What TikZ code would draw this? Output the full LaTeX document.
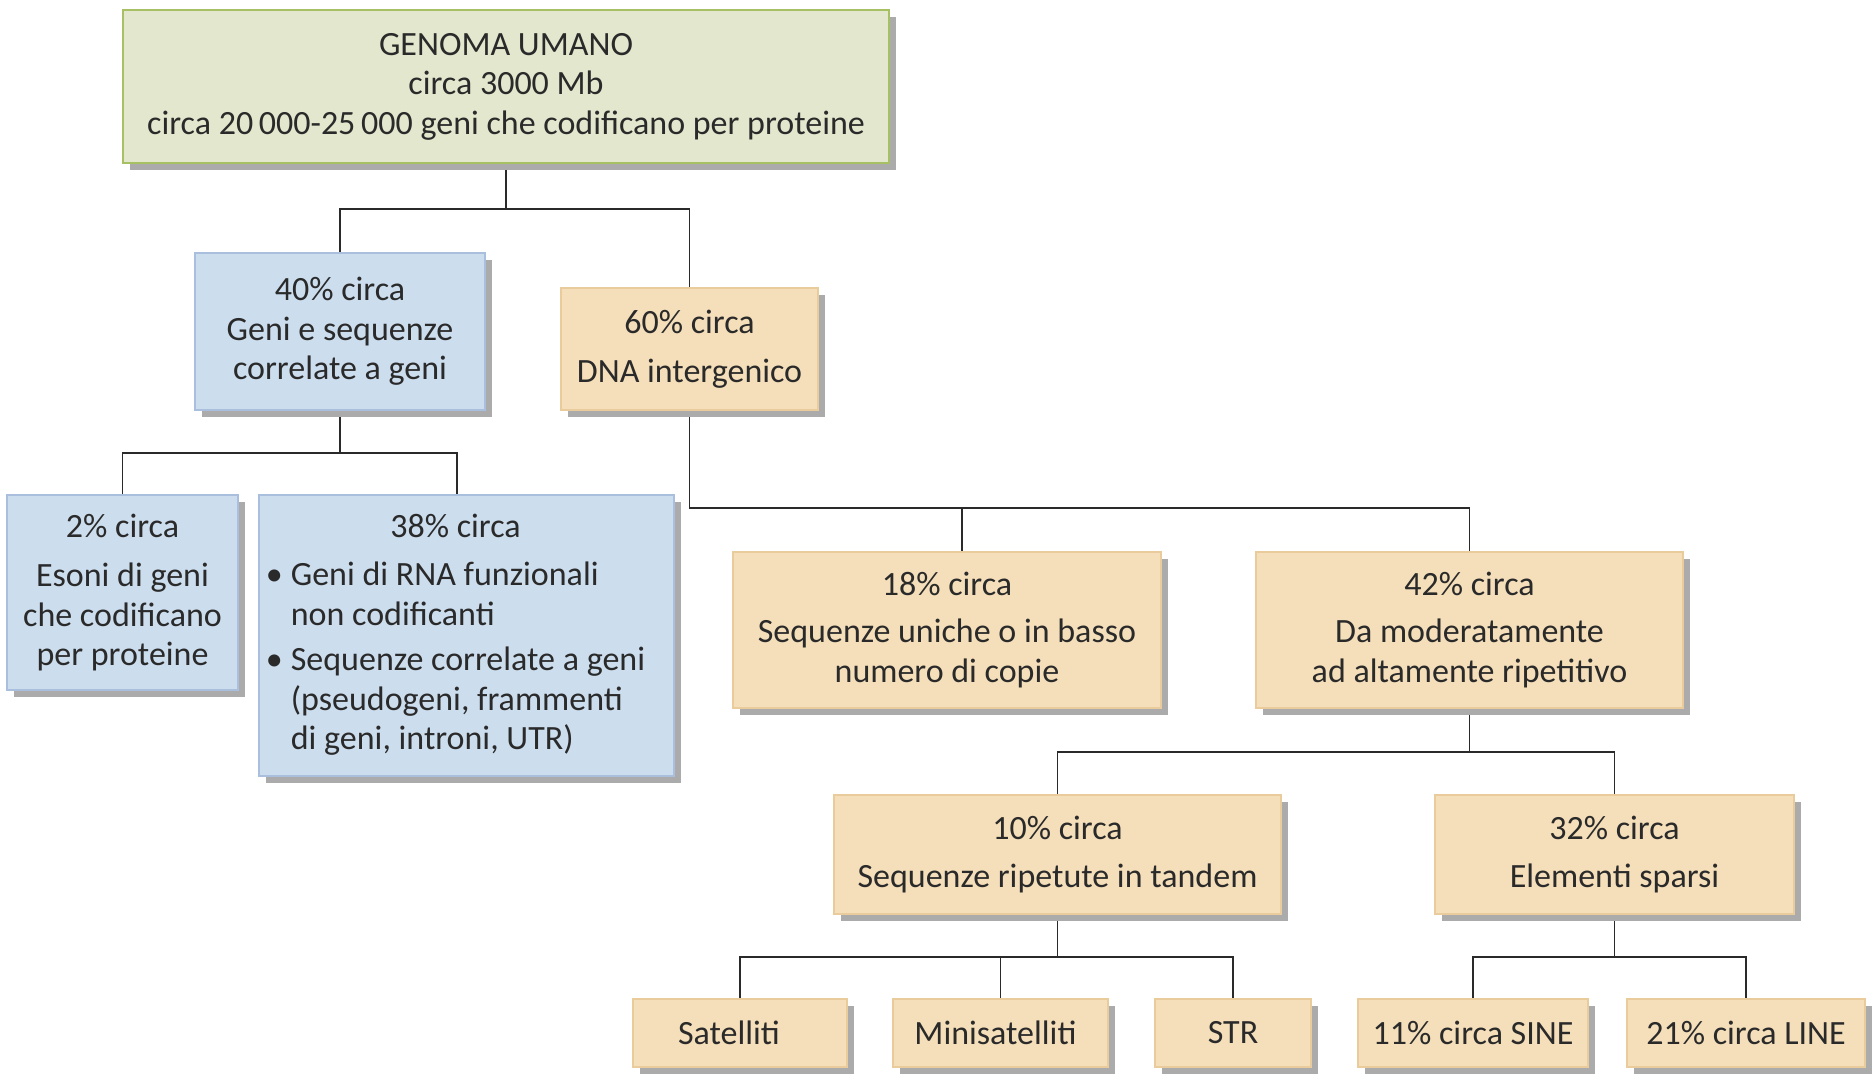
\documentclass[tikz,border=0pt]{standalone}
\usepackage{fontspec}
\setmainfont{Carlito}
\usetikzlibrary{shadows,backgrounds}
\definecolor{gfill}{HTML}{E3E7CD}
\definecolor{gdraw}{HTML}{A7C063}
\definecolor{bfill}{HTML}{CCDDEE}
\definecolor{bdraw}{HTML}{A9BFDD}
\definecolor{tfill}{HTML}{F5DFBA}
\definecolor{tdraw}{HTML}{EACB9C}
\definecolor{shad}{HTML}{ABABAB}
\definecolor{txt}{HTML}{2A2A2A}
\tikzset{
  box/.style={draw, line width=1.5pt, inner sep=0pt, align=center, text=txt,
    font=\fontsize{34}{39.5}\selectfont,
    drop shadow={shadow xshift=7pt, shadow yshift=-7pt, fill=shad, opacity=1}},
  gbox/.style={box, fill=gfill, draw=gdraw},
  bbox/.style={box, fill=bfill, draw=bdraw},
  tbox/.style={box, fill=tfill, draw=tdraw},
  conn/.style={line width=1.8pt, draw=txt}
}
\begin{document}
\begin{tikzpicture}[x=1pt,y=-1pt]
\useasboundingbox (0,0) rectangle (1874,1074);
\node[gbox, minimum width=766pt, minimum height=153pt] (top) at (506,86.5)
  {GENOMA UMANO\\circa 3000 Mb\\circa 20\,000-25\,000 geni che codificano per proteine};
\node[bbox, minimum width=290pt, minimum height=157pt] (n40) at (340,331.5)
  {40\% circa\\Geni e sequenze\\correlate a geni};
\node[tbox, minimum width=257pt, minimum height=122pt] (n60) at (689.5,349)
  {60\% circa\\[9pt]DNA intergenico};
\node[bbox, minimum width=231pt, minimum height=195pt] (n2) at (122.5,592.5)
  {2\% circa\\[10pt]Esoni di geni\\che codificano\\per proteine};
\node[bbox, minimum width=415pt, minimum height=281pt] (n38) at (466.5,635.5)
  {\begin{tabular}{@{}l@{\hspace{8pt}}l@{}}
   \multicolumn{2}{c}{38\% circa}\\[9pt]
   \textbullet & Geni di RNA funzionali\\
               & non codificanti\\[6pt]
   \textbullet & Sequenze correlate a geni\\
               & (pseudogeni, frammenti\\
               & di geni, introni, UTR)
   \end{tabular}\rule{22pt}{0pt}};
\node[tbox, minimum width=428pt, minimum height=156pt] (n18) at (947,630)
  {18\% circa\\[8pt]Sequenze uniche o in basso\\numero di copie};
\node[tbox, minimum width=427pt, minimum height=156pt] (n42) at (1469.5,630)
  {42\% circa\\[8pt]Da moderatamente\\ad altamente ripetitivo};
\node[tbox, minimum width=447pt, minimum height=119pt] (n10) at (1057.5,854.5)
  {10\% circa\\[8pt]Sequenze ripetute in tandem};
\node[tbox, minimum width=359pt, minimum height=119pt] (n32) at (1614.5,854.5)
  {32\% circa\\[8pt]Elementi sparsi};
\node[tbox, minimum width=214pt, minimum height=68pt] (sat) at (740,1033) {Satelliti\rule{22pt}{0pt}};
\node[tbox, minimum width=215pt, minimum height=68pt] (mini) at (1000.5,1033) {Minisatelliti\rule{10pt}{0pt}};
\node[tbox, minimum width=156pt, minimum height=68pt] (str) at (1233,1033) {STR};
\node[tbox, minimum width=230pt, minimum height=68pt] (sine) at (1473,1033) {11\% circa SINE};
\node[tbox, minimum width=238pt, minimum height=68pt] (line) at (1746,1033) {21\% circa LINE};
\coordinate (k38) at (457,495);
\coordinate (k18) at (962,552);
\coordinate (b1) at (0,209);
\coordinate (b2) at (0,453);
\coordinate (b3) at (0,508);
\coordinate (b4) at (0,752);
\coordinate (b5) at (0,957);
\begin{scope}[on background layer]
\draw[conn] (top.south) -- (top.south |- b1) -| (n40.north);
\draw[conn] (top.south |- b1) -| (n60.north);
\draw[conn] (n40.south) -- (n40.south |- b2) -| (n2.north);
\draw[conn] (n40.south |- b2) -| (k38);
\draw[conn] (n60.south) -- (n60.south |- b3) -| (k18);
\draw[conn] (n60.south |- b3) -| (n42.north);
\draw[conn] (n42.south) -- (n42.south |- b4) -| (n10.north);
\draw[conn] (n42.south |- b4) -| (n32.north);
\draw[conn] (n10.south) -- (n10.south |- b5) -| (sat.north);
\draw[conn] (n10.south |- b5) -| (mini.north);
\draw[conn] (n10.south |- b5) -| (str.north);
\draw[conn] (n32.south) -- (n32.south |- b5) -| (sine.north);
\draw[conn] (n32.south |- b5) -| (line.north);
\end{scope}
\end{tikzpicture}
\end{document}
